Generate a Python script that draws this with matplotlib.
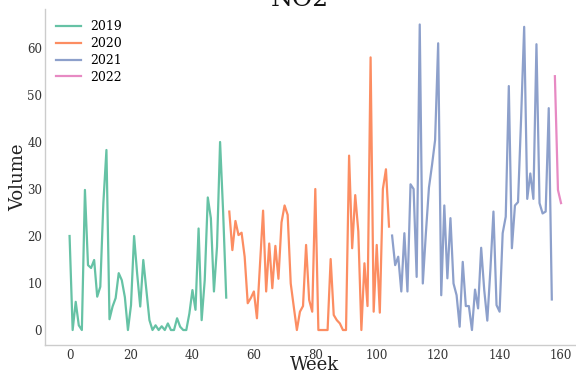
import matplotlib
matplotlib.use("Agg")
import matplotlib.pyplot as plt
import numpy as np

plt.rcParams['font.family'] = ['DejaVu Serif']

weeks_2019 = list(range(0, 52))
vals_2019 = [20, 0, 6, 1, 0, 29.8, 13.8, 13.2, 14.9, 7.1, 9.2, 27, 38.3, 2.3, 5, 6.8,
             12.1, 10.6, 7, 0, 5.3, 20, 12, 5, 14.9, 8.5, 2.1, 0, 1, 0, 0.8, 0,
             1.4, 0, 0, 2.5, 0.7, 0, 0, 3.5, 8.5, 4.3, 21.6, 2.1, 10.6, 28.2, 23.8, 8.2,
             17.7, 40, 25, 6.9]

weeks_2020 = list(range(52, 105))
vals_2020 = [25.2, 17, 23.2, 20.2, 20.7, 15.6, 5.7, 6.8, 8.2, 2.5, 14, 25.4, 8.2, 18.4,
             8.9, 17.9, 10.9, 22.9, 26.5, 24.5, 9.9, 4.9, 0, 3.9, 5.1, 18.1, 6.4, 3.9,
             30, 0, 0, 0, 0, 15.1, 3.2, 2.1, 1.4, 0, 0, 37.1, 17.4, 28.7, 21, 0,
             14.2, 5.1, 58, 3.9, 18.1, 3.7, 30, 34.2, 22]

weeks_2021 = list(range(105, 158))
vals_2021 = [20.1, 13.8, 15.6, 8.2, 20.6, 8.2, 31, 30, 11.3, 65, 9.9, 20.6, 30.3, 35.1,
             40.4, 61, 7.4, 26.5, 11, 23.8, 9.9, 7.4, 0.7, 14.5, 5.1, 5.1, 0, 8.6,
             4.6, 17.5, 8.5, 2, 12.8, 25.2, 5.3, 3.9, 20.6, 24.1, 51.9, 17.4, 26.5,
             27.2, 45, 64.5, 27.9, 33.3, 27.9, 60.8, 27, 24.8, 25.2, 47.2, 6.5]

weeks_2022 = [158, 159, 160]
vals_2022 = [54, 29.8, 27]

series = [("2019", weeks_2019, vals_2019, "#66c2a5"),
          ("2020", weeks_2020, vals_2020, "#fc8d62"),
          ("2021", weeks_2021, vals_2021, "#8da0cb"),
          ("2022", weeks_2022, vals_2022, "#e78ac3")]

fig = plt.figure(figsize=(5.76, 3.72), dpi=100)
ax = fig.add_axes([45/576, 1 - 345.3/372, 540.6/576, 336.1/372])

for label, x, y, c in series:
    ax.plot(x, y, color=c, lw=1.6, label=label)

ax.set_xlim(-8, 168)
ax.set_ylim(-3.25, 68.25)
ax.set_xticks(range(0, 161, 20))
ax.set_yticks(range(0, 61, 10))
ax.tick_params(length=0, labelsize=8.5, colors="#333333", pad=3)
ax.tick_params(axis='y', pad=2)
for s in ["top", "right"]:
    ax.spines[s].set_visible(False)
for s in ["left", "bottom"]:
    ax.spines[s].set_color("#cccccc")
    ax.spines[s].set_linewidth(1.0)

ax.set_xlabel("Week", fontsize=13, color="#222222")
ax.xaxis.set_label_coords((315 - 45) / 540.6, -(356.5 - 345.3) / 336.1)
ax.set_ylabel("Volume", fontsize=13, color="#222222")
ax.yaxis.set_label_coords(-(45 - 27) / 540.6, 0.5)

fig.text(299.5/576, 1 - 5.5/372, "NO2", fontsize=18, ha="center", va="baseline", color="#111111")

leg = ax.legend(loc="upper left", frameon=False, fontsize=9, handlelength=2.0,
                handletextpad=0.7, bbox_to_anchor=(0.0, 1.0), borderaxespad=0.5,
                labelspacing=0.3)

fig.savefig("out.png", dpi=100)
